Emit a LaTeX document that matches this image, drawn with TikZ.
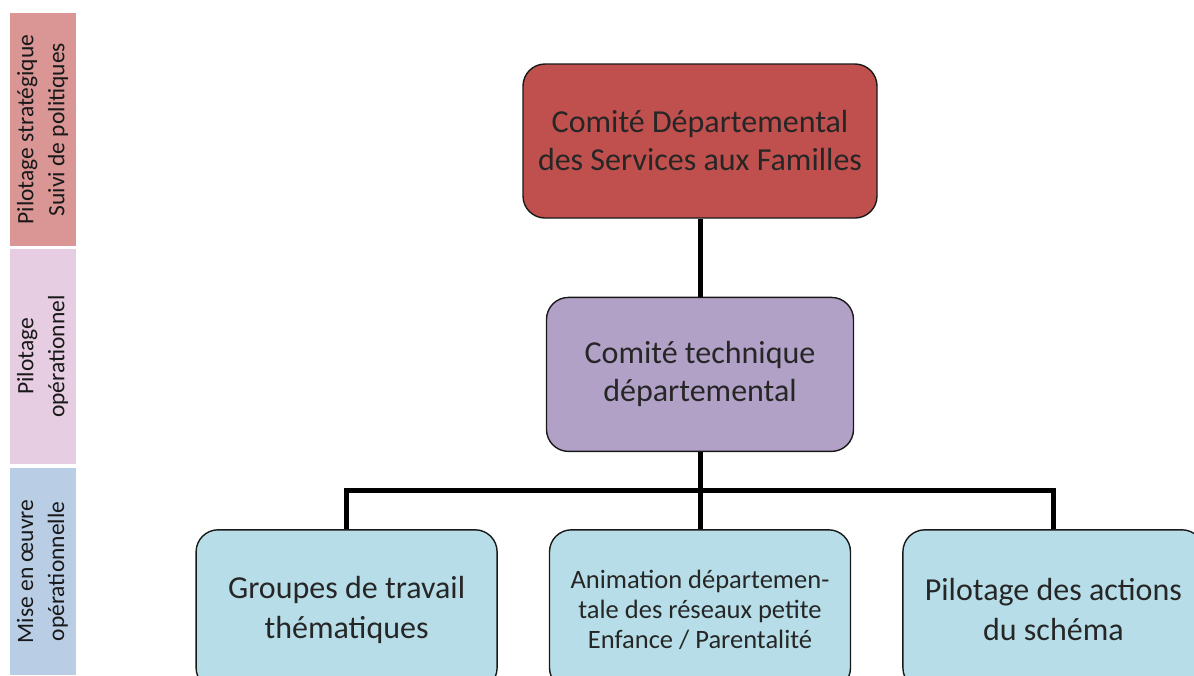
\documentclass[tikz,border=0pt]{standalone}
\usepackage{fontspec}
\setmainfont{Carlito}
\usepackage{xcolor}
\usepackage{tikz}
\usetikzlibrary{positioning}
\definecolor{bandred}{HTML}{D99694}
\definecolor{bandpink}{HTML}{E6CDE2}
\definecolor{bandblue}{HTML}{B9CDE5}
\definecolor{boxred}{HTML}{C0504D}
\definecolor{boxpurple}{HTML}{B2A1C7}
\definecolor{boxaqua}{HTML}{B7DEE8}
\definecolor{txtgray}{HTML}{262626}

\begin{document}
\begin{tikzpicture}[x=1pt, y=-1pt,
  box/.style={draw=black!90, line width=1.4pt, rounded corners=22pt,
    minimum height=154pt, align=center, text=txtgray,
    font=\fontsize{32}{38}\selectfont},
  band/.style={rotate=90, minimum height=66pt, align=center,
    inner sep=0pt, text=black!90, font=\fontsize{23.5}{31}\selectfont},
  link/.style={line width=5pt, line join=miter}
]
\clip (0,0) rectangle (1194,675);
\useasboundingbox (0,0) rectangle (1194,675);

% niveaux
\node[band, fill=bandred, minimum width=233pt] (strat) at (42.5,129.5)
  {Pilotage stratégique\\Suivi de politiques};
\node[band, fill=bandpink, minimum width=215pt] (oper) at (42.5,356.5)
  {Pilotage\\opérationnel};
\node[band, fill=bandblue, minimum width=207pt] (mise) at (42.5,571.5)
  {Mise en œuvre\\opérationnelle};

% instances
\node[box, fill=boxred, minimum width=354pt] (cdsf) at (700,141)
  {Comité Départemental\\des Services aux Familles};
\node[box, fill=boxpurple, minimum width=307pt, below=78pt of cdsf] (ctd)
  {Comité technique\\départemental};
\node[box, fill=boxaqua, minimum width=301pt, minimum height=160pt,
  font=\fontsize{26.5}{30}\selectfont, below=77pt of ctd] (adr)
  {Animation départemen-\\tale des réseaux petite\\Enfance / Parentalité};
\node[box, fill=boxaqua, minimum width=301pt, minimum height=160pt,
  font=\fontsize{32}{40}\selectfont, left=51pt of adr] (gtt)
  {Groupes de travail\\thématiques};
\node[box, fill=boxaqua, minimum width=301pt, minimum height=160pt,
  font=\fontsize{32}{40}\selectfont, right=51pt of adr] (pas)
  {Pilotage des actions\\du schéma};

\coordinate (hub) at (700,490);
\draw[link] (cdsf) -- (ctd);
\draw[link] (ctd) -- (hub);
\draw[link] (gtt.north) |- (hub) -| (pas.north);
\draw[link] (hub) -- (adr);
\end{tikzpicture}
\end{document}
